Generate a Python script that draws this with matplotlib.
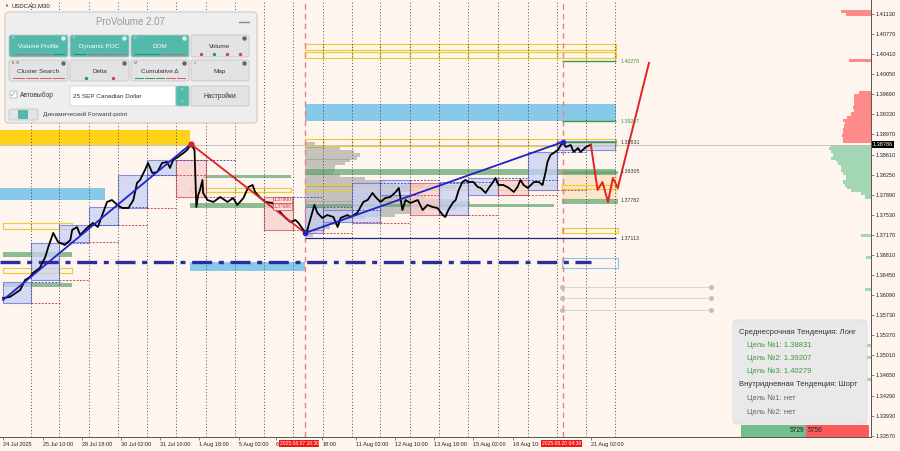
import matplotlib
matplotlib.use("Agg")
import matplotlib.pyplot as plt
from matplotlib.patches import Rectangle, FancyBboxPatch
from matplotlib.transforms import blended_transform_factory

plt.rcParams["font.family"] = ["Liberation Sans", "DejaVu Sans"]

W, H = 900, 451
BG = "#FDF5EE"

# ---- USDCAD M30 closes (bar index from the left edge, price) ----
close_bar = [5, 16, 33, 41, 49, 54, 65, 74, 79, 87, 95, 106, 115, 118, 126, 131, 142, 152,
             160, 175, 183, 192, 200, 210, 218, 224, 229, 237, 242, 249, 257, 265, 273, 278,
             283, 291, 300, 306, 312, 318, 321, 324, 327, 331, 332, 339, 349, 360, 372, 381,
             388, 398, 406, 413, 417, 426, 434, 445, 453, 458, 467, 475, 483, 488, 496, 501,
             507, 514, 519, 527, 535, 545, 552, 557, 568, 573, 584, 594, 601, 609, 614, 622,
             630, 638, 647, 652, 658, 663, 671, 683, 691, 699, 707, 715, 724, 728, 733, 740,
             745, 750, 756, 761, 766, 774, 781, 786, 794, 799, 805, 810, 815, 823, 832, 840,
             846, 851, 856, 863, 868, 873, 881, 887, 892, 895, 900, 905, 912, 920, 925, 933,
             938, 945, 949, 958, 966]
close_price = [1.36038, 1.36056, 1.36182, 1.36361, 1.36415, 1.36487, 1.36576, 1.36773,
               1.36953, 1.37204, 1.37042, 1.36989, 1.37078, 1.37258, 1.37311, 1.37168,
               1.37293, 1.37383, 1.37311, 1.37760, 1.37795, 1.37706, 1.37652, 1.37652,
               1.37795, 1.38100, 1.38154, 1.38333, 1.38459, 1.38279, 1.38297, 1.38459,
               1.38477, 1.38369, 1.38513, 1.38566, 1.38638, 1.38692, 1.38799, 1.38692,
               1.37670, 1.37885, 1.37975, 1.38154, 1.37921, 1.37795, 1.37760, 1.37849,
               1.37760, 1.37831, 1.37706, 1.37831, 1.38028, 1.38064, 1.37939, 1.37831,
               1.37760, 1.37742, 1.37670, 1.37580, 1.37473, 1.37401, 1.37437, 1.37383,
               1.37258, 1.37204, 1.37437, 1.37706, 1.37562, 1.37473, 1.37526, 1.37491,
               1.37311, 1.37473, 1.37526, 1.37491, 1.37562, 1.37760, 1.37795, 1.37921,
               1.37849, 1.37760, 1.37831, 1.37849, 1.37939, 1.38011, 1.37616, 1.37795,
               1.37742, 1.37795, 1.37616, 1.37706, 1.37670, 1.37652, 1.37526, 1.37491,
               1.37616, 1.37742, 1.37795, 1.37975, 1.38118, 1.38154, 1.38118, 1.38118,
               1.38028, 1.38011, 1.37921, 1.38011, 1.38100, 1.38190, 1.38064, 1.38064,
               1.38011, 1.37939, 1.38028, 1.38154, 1.38064, 1.38011, 1.38064, 1.38118,
               1.38118, 1.38064, 1.38297, 1.38477, 1.38602, 1.38638, 1.38692, 1.38835,
               1.38746, 1.38781, 1.38656, 1.38728, 1.38656, 1.38746, 1.38786]
current_price = 1.38786

# forecast path (red) and swing points
proj_bar = [966, 977, 985, 994, 1002, 1010, 1061]
proj_price = [1.38786, 1.37975, 1.38118, 1.37760, 1.38190, 1.38011, 1.40252]
swing_bar = [5, 312, 499, 920]
swing_price = [1.36003, 1.38799, 1.37204, 1.38835]

# target levels
level_price = [1.40279, 1.39207, 1.38831, 1.38305, 1.37782, 1.37113]
level_label = ["1.40279", "1.39207", "1.38831", "1.38305", "1.37782", "1.37113"]

# time axis
day_edges = [50, 97, 145, 193, 240, 288, 336, 384, 431, 479, 528, 575, 622, 670, 718,
             765, 814, 863, 910, 958, 1005]
event_bars = [499, 920]
event_labels = ["2025.08.07 10:30", "2025.08.20 04:30"]
event_label_bars = [489, 918]
tick_bars = [5, 70, 134, 198, 262, 326, 390, 451, 527, 582, 646, 710, 774, 838, 966]
tick_labels = ["24 Jul 2025", "25 Jul 10:00", "28 Jul 18:00", "30 Jul 02:00", "31 Jul 10:00",
               "1 Aug 18:00", "5 Aug 02:00", "6", "18:00", "11 Aug 02:00",
               "12 Aug 10:00", "13 Aug 18:00", "15 Aug 02:00", "18 Aug 10:", "21 Aug 02:00"]

# daily range boxes
day_start = [5, 50, 97, 145, 193, 240, 288, 431, 499, 528, 575, 622, 670, 718, 765, 814, 863, 910]
day_end = [50, 97, 145, 193, 240, 288, 336, 479, 528, 575, 622, 670, 718, 765, 814, 863, 910, 1005]
day_low = [1.35949, 1.36361, 1.37042, 1.37347, 1.37652, 1.38244, 1.37849, 1.37258, 1.37204,
           1.37401, 1.37383, 1.37885, 1.37526, 1.37526, 1.37885, 1.37885, 1.37975, 1.38692]
day_high = [1.36325, 1.37024, 1.37347, 1.37670, 1.38244, 1.38513, 1.38513, 1.37849, 1.37670,
            1.37616, 1.38100, 1.38154, 1.38100, 1.38118, 1.38190, 1.38154, 1.38656, 1.38853]
day_up = [1, 1, 1, 1, 1, 1, 0, 0, 1, 1, 1, 1, 0, 1, 1, 0, 1, 1]

# zones: (first bar, last bar, low, high)
gold_zones = [(0, 311, 1.38781, 1.39050)]
sky_zones = [(0, 172, 1.37795, 1.38011), (499, 1007, 1.39212, 1.39516), (311, 499, 1.36523, 1.36684)]
green_zones = [(5, 118, 1.36773, 1.36863), (5, 118, 1.36236, 1.36308), (332, 475, 1.38190, 1.38244),
               (311, 475, 1.37652, 1.37742), (499, 1007, 1.38244, 1.38351), (499, 905, 1.37670, 1.37724),
               (918, 1010, 1.38262, 1.38315), (918, 1010, 1.37724, 1.37813)]
yellow_boxes = [(499, 1007, 1.40485, 1.40592), (499, 1007, 1.40341, 1.40449), (499, 1007, 1.38763, 1.38889),
                (311, 475, 1.37939, 1.38011), (499, 905, 1.37975, 1.38064), (5, 118, 1.37275, 1.37383),
                (5, 118, 1.36487, 1.36576), (918, 1010, 1.37993, 1.38064), (918, 1010, 1.37204, 1.37293)]
peach_zone = (918, 1010, 1.37795, 1.38297)
navy_dashdot = 1.36684
navy_dashdot_end = 966
grey_levels = [1.36236, 1.36038, 1.35823]
grey_span = (918, 1162)
sky_outline = (918, 1010, 1.36576, 1.36756)

# session volume profile (anchored at bar 499, widths in bars)
mid_prof_price = [1.38817, 1.38763, 1.38710, 1.38656, 1.38602, 1.38548, 1.38495, 1.38441, 1.38387,
                  1.38333, 1.38279, 1.38226, 1.38172, 1.38118, 1.38064, 1.38011, 1.37957, 1.37903,
                  1.37849, 1.37795, 1.37742, 1.37688, 1.37634, 1.37580, 1.37526, 1.37473, 1.37419,
                  1.37365, 1.37311, 1.37258, 1.37204, 1.37150]
mid_prof_width = [16, 33, 57, 79, 90, 85, 74, 65, 49, 49, 46, 57, 98, 131, 196, 246, 180, 147,
                  196, 246, 270, 262, 246, 196, 147, 98, 74, 57, 41, 33, 20, 13]

# right-edge profile (widths in bars from the right edge)
ask_prof_price = [1.41166, 1.41130, 1.40305, 1.39714, 1.39660, 1.39606, 1.39552, 1.39499, 1.39445,
                  1.39391, 1.39337, 1.39283, 1.39229, 1.39175, 1.39122, 1.39068, 1.39014, 1.38960,
                  1.38907, 1.38853]
ask_prof_width = [49, 41, 36, 20, 28, 28, 28, 28, 29, 28, 33, 39, 46, 43, 44, 46, 46, 47, 46, 46]
bid_prof_price = [1.38763, 1.38710, 1.38656, 1.38602, 1.38548, 1.38495, 1.38441, 1.38387, 1.38333,
                  1.38279, 1.38226, 1.38172, 1.38118, 1.38064, 1.38011, 1.37957, 1.37903, 1.37849,
                  1.37150, 1.36756, 1.36182, 1.35195, 1.34963, 1.34569]
bid_prof_width = [65, 69, 65, 62, 65, 57, 54, 49, 49, 46, 41, 41, 46, 43, 39, 33, 16, 10,
                  16, 8, 10, 13, 10, 13]

buy_count, sell_count = 5729, 5756

X_MAX = 1424
Y_MIN, Y_MAX = 1.33546, 1.41381

fig = plt.figure(figsize=(W / 100, H / 100), dpi=100, facecolor=BG)
ax = fig.add_axes([0, 14 / H, 871 / W, 437 / H])
ax.set_facecolor(BG)
ax.set_xlim(0, X_MAX)
ax.set_ylim(Y_MIN, Y_MAX)


def zone(x0, x1, lo, hi, **kw):
    ax.add_patch(Rectangle((x0, lo), x1 - x0, hi - lo, **kw))


# filled zones
for z in gold_zones:
    zone(*z, fc="#FFD21A", ec="none", zorder=1)
for z in sky_zones:
    zone(*z, fc="#86C9E8", ec="none", zorder=1)
zone(*peach_zone, fc="#FBE2C2", ec="none", alpha=0.8, zorder=1)
for z in green_zones:
    zone(*z, fc="#5FA36A", ec="none", alpha=0.7, zorder=1.6)

# session profile
ax.barh(mid_prof_price, mid_prof_width, height=0.00054, left=event_bars[0],
        color="#8E8E8E", alpha=0.5, zorder=1.4)

# right profile
ax.barh(ask_prof_price, ask_prof_width, height=0.00054, left=[X_MAX - w for w in ask_prof_width],
        color="#FF8A8A", zorder=1.4)
ax.barh(bid_prof_price, bid_prof_width, height=0.00054, left=[X_MAX - w for w in bid_prof_width],
        color="#A3D6B2", zorder=1.4)

# yellow outline boxes, split at day separators
for x0, x1, lo, hi in yellow_boxes:
    cuts = [x0] + [d for d in day_edges if x0 < d < x1] + [x1]
    for a, b in zip(cuts[:-1], cuts[1:]):
        zone(a, b, lo, hi, fc="none", ec="#EBCB2E", lw=0.8, zorder=2)

# day range boxes + carried levels
for s, e, lo, hi, up in zip(day_start, day_end, day_low, day_high, day_up):
    if up:
        zone(s, e, lo, hi, fc="#C9D0F4", ec="#6470D8", lw=0.8, alpha=0.75, zorder=2.2)
    else:
        zone(s, e, lo, hi, fc="#F7D0D0", ec="#D45555", lw=0.8, alpha=0.75, zorder=2.2)
    ax.hlines(hi, e, min(e + 48, 1007), colors="#4B55CC", lw=0.7, linestyles=(0, (2, 1.5)), zorder=2.3)
    ax.hlines(lo, e, min(e + 48, 1007), colors="#D04848", lw=0.7, linestyles=(0, (2, 1.5)), zorder=2.3)

zone(*sky_outline, fc="none", ec="#8EC3EA", lw=0.8, zorder=2)

# separators
for d in day_edges:
    ax.axvline(d, color="#3A3A3A", lw=0.6, ls=(0, (1.2, 2.6)), zorder=2.5)
for d in event_bars:
    ax.axvline(d, color="#E88282", lw=1.0, ls=(0, (4, 3)), zorder=2.6)

# current price line
ax.axhline(current_price, color="#BDBDBD", lw=0.6, zorder=2.4)

# dash-dot navy level
ax.hlines(navy_dashdot, 0, navy_dashdot_end, colors="#2B2F9E", lw=2.4,
          linestyles=(0, (6, 2, 1.5, 2)), zorder=3)

# grey markers
for g in grey_levels:
    ax.plot(grey_span, [g, g], color="#D2D2D2", lw=0.6, zorder=3)
    ax.plot(grey_span, [g, g], "o", color="#BEBEBE", ms=3.5, mec="none", zorder=3)

# target levels
ax.hlines(level_price[5], 499, 1007, colors="#1F2A80", lw=0.9, zorder=3)
for p in level_price[:3]:
    ax.hlines(p, 918, 1007, colors="#3C9A3C", lw=1.0, zorder=3)
for p, s in zip(level_price, level_label):
    c = "#3C9A3C" if p > 1.389 else "#333333"
    ax.text(1015, p, s, fontsize=3.8, color=c, va="center", ha="left", zorder=6)

# small price tags
for p, s in zip([1.37800, 1.37680], ["1.37800", "1.37680"]):
    ax.text(447, p, s, fontsize=3.6, color="#D03030", va="center", ha="left", zorder=6,
            bbox=dict(fc="#FBE3E3", ec="#D04848", lw=0.5, pad=0.5))

# price
ax.plot(close_bar, close_price, color="black", lw=1.3, zorder=4)
ax.plot(swing_bar[:2], swing_price[:2], color="#1E22C8", lw=1.3, zorder=5)
ax.plot(swing_bar[1:3], swing_price[1:3], color="#E02020", lw=1.3, zorder=5)
ax.plot(swing_bar[2:], swing_price[2:], color="#1E22C8", lw=1.3, zorder=5)
ax.plot(swing_bar[1], swing_price[1], "o", color="#E02020", ms=3.5, zorder=6)
ax.plot(swing_bar[2:], swing_price[2:], "o", color="#1E22C8", ms=3, ls="none", zorder=6)
ax.plot(proj_bar, proj_price, color="#E52222", lw=1.4, zorder=5)

# axes styling
for side in ("left", "top"):
    ax.spines[side].set_visible(False)
for side in ("right", "bottom"):
    ax.spines[side].set_color("#555555")
    ax.spines[side].set_linewidth(0.7)
ax.yaxis.tick_right()
yt = [1.33570 + 0.0036 * k for k in range(22)]
ax.set_yticks(yt, [f"{v:.5f}" for v in yt])
ax.set_xticks(tick_bars, tick_labels, ha="left")
ax.tick_params(axis="both", labelsize=4, length=2.5, width=0.5, pad=1, colors="#555555",
               labelcolor="#222222")

blend_y = blended_transform_factory(ax.transAxes, ax.transData)
ax.text(1.002, current_price, f"{current_price:.5f}", transform=blend_y, fontsize=4,
        color="white", va="center", ha="left", zorder=20, clip_on=False,
        bbox=dict(fc="black", ec="none", pad=0.7))
blend_x = blended_transform_factory(ax.transData, ax.transAxes)
for b, s in zip(event_label_bars, event_labels):
    ax.text(b, -0.009, s, transform=blend_x, fontsize=3.6, color="white", va="top", ha="center",
            zorder=20, clip_on=False, bbox=dict(fc="#F01818", ec="none", pad=0.5))

# ---- overlay widgets in pixel space ----
ui = fig.add_axes([0, 0, 1, 1], zorder=10)
ui.set_xlim(0, W)
ui.set_ylim(H, 0)
ui.axis("off")
ui.patch.set_alpha(0)


def rbox(x0, y0, x1, y1, fc, ec, r=2.0, lw=0.6, alpha=1.0, z=2):
    ui.add_patch(FancyBboxPatch((x0, y0), x1 - x0, y1 - y0,
                                boxstyle=f"round,pad=0,rounding_size={r}",
                                fc=fc, ec=ec, lw=lw, alpha=alpha, zorder=z))


ui.text(4, 6, "▼", fontsize=2.8, color="#333333", va="center", ha="left")
ui.text(11, 6, "USDCAD,M30", fontsize=4.3, color="#222222", va="center", ha="left")

TEAL = "#52B9AB"
rbox(5, 12, 257, 123, "#EEEEEE", "#CCCCCC", r=4, lw=0.8, z=1)
ui.text(130, 22, "ProVolume 2.07", fontsize=7, color="#9A9A9A", ha="center", va="center", zorder=3)
ui.plot([239, 249], [22, 22], color="#8A8A8A", lw=1.0, zorder=3)

btn_cols = [(9, 68), (70, 129), (131, 189), (191, 249)]
btn_rows = [(35, 57), (60, 81)]
btn_text = [["Volume Profile", "Dynamic POC", "DOM", "Volume"],
            ["Cluster Search", "Delta", "Cumulative Δ", "Map"]]
btn_keys = [["V", "P", "D", ""], ["B  N", "", "M", "J"]]
btn_on = [[True, True, True, False], [False, False, False, False]]
btn_marks = [[("-", ["#C96A6A", "#C96A6A", "#C96A6A", "#2E8B57"]),
              ("-", ["#2E8B57", "#C96A6A", "#C96A6A", "#C96A6A"]),
              ("-", ["#2E8B57", "#C96A6A"]),
              ("o", ["#D04545", "#2E9A4E", "#D04545", "#D04545"])],
             [("-", ["#D06060", "#D06060", "#D06060", "#D06060"]),
              ("o", ["#2E9A4E", "#D04545"]),
              ("-", ["#2E9A4E", "#2E9A4E", "#2E9A4E", "#D06060", "#D06060"]),
              ("-", [])]]
for r, (y0, y1) in enumerate(btn_rows):
    for c, (x0, x1) in enumerate(btn_cols):
        on = btn_on[r][c]
        rbox(x0, y0, x1, y1, TEAL if on else "#E3E3E3", "#B9C9C6" if on else "#C6C6C6", r=2, z=2)
        ui.text((x0 + x1) / 2, y0 + 11.5, btn_text[r][c], fontsize=4.6,
                color="white" if on else "#333333", ha="center", va="center", zorder=3)
        if btn_keys[r][c]:
            ui.text(x0 + 3, y0 + 3, btn_keys[r][c], fontsize=2.6,
                    color="#E8F5F3" if on else "#555555", ha="left", va="center", zorder=3)
        ui.plot(x1 - 5, y0 + 3, "o", ms=2.2, color="#666666" if not on else "#E0F0EE", zorder=3)
        style, cols = btn_marks[r][c]
        n = len(cols)
        for k, col in enumerate(cols):
            seg = (x1 - x0 - 6) / max(n, 1)
            sx = x0 + 3 + k * seg
            if style == "-":
                ui.plot([sx + 1, sx + seg - 1], [y1 - 3.5, y1 - 3.5], color=col, lw=0.7, zorder=3)
            else:
                ui.plot(sx + seg / 2, y1 - 3.5, "o", ms=1.4, color=col, zorder=3)

rbox(10, 91, 17, 98, "white", "#AAAAAA", r=1, lw=0.5, z=2)
ui.text(13.5, 94, "✓", fontsize=5.5, color=TEAL, ha="center", va="center", zorder=3,
        family=["DejaVu Sans"])
ui.text(20, 95, "Автовыбор", fontsize=4.8, color="#333333", ha="left", va="center", zorder=3)
rbox(70, 86, 176, 106, "white", "#CFCFCF", r=1.5, z=2)
ui.text(73, 96.5, "25 SEP Canadian Dollar", fontsize=4.6, color="#333333", ha="left", va="center", zorder=3)
rbox(176, 86, 189, 106, TEAL, "#9CC9C2", r=1.5, z=2)
ui.text(182.5, 92, "⌃", fontsize=4, color="white", ha="center", va="center", zorder=3, family=["DejaVu Sans"])
ui.text(182.5, 100, "⌄", fontsize=4, color="white", ha="center", va="center", zorder=3, family=["DejaVu Sans"])
rbox(191, 86, 249, 106, "#E3E3E3", "#C6C6C6", r=2, z=2)
ui.text(220, 96.5, "Настройки", fontsize=4.8, color="#333333", ha="center", va="center", zorder=3)
rbox(9, 109, 38, 120, "#E3E3E3", "#C6C6C6", r=2, z=2)
rbox(18, 110, 28, 119, TEAL, "none", r=1, z=3)
ui.text(43, 114.5, "Динамический Forward-point", fontsize=4.6, color="#444444", ha="left", va="center", zorder=3)

# trend info box
rbox(733, 320, 867, 424, "#E9E9E9", "#DDDDDD", r=4, lw=0.6, alpha=0.95, z=2)
GREEN_TXT = "#3C9A3C"
info_lines = [(739, 332, "Среднесрочная Тенденция: Лонг", "#333333"),
              (747, 345, f"Цель №1: {level_price[2]:.5f}", GREEN_TXT),
              (747, 358, f"Цель №2: {level_price[1]:.5f}", GREEN_TXT),
              (747, 371, f"Цель №3: {level_price[0]:.5f}", GREEN_TXT),
              (739, 385, "Внутридневная Тенденция: Шорт", "#333333"),
              (747, 398, "Цель №1: нет", "#666666"),
              (747, 412, "Цель №2: нет", "#666666")]
for x, y, s, col in info_lines:
    ui.text(x, y, s, fontsize=5.5, color=col, ha="left", va="center", zorder=3)

ui.add_patch(Rectangle((741, 425), 65, 12, fc="#73BE8C", ec="none", zorder=3))
ui.add_patch(Rectangle((806, 425), 63, 12, fc="#FF5A5A", ec="none", zorder=3))
ui.text(804, 431, str(buy_count), fontsize=4.8, color="#222222", ha="right", va="center", zorder=4)
ui.text(808, 431, str(sell_count), fontsize=4.8, color="#222222", ha="left", va="center", zorder=4)

fig.savefig("out.png", dpi=100, facecolor=BG)
